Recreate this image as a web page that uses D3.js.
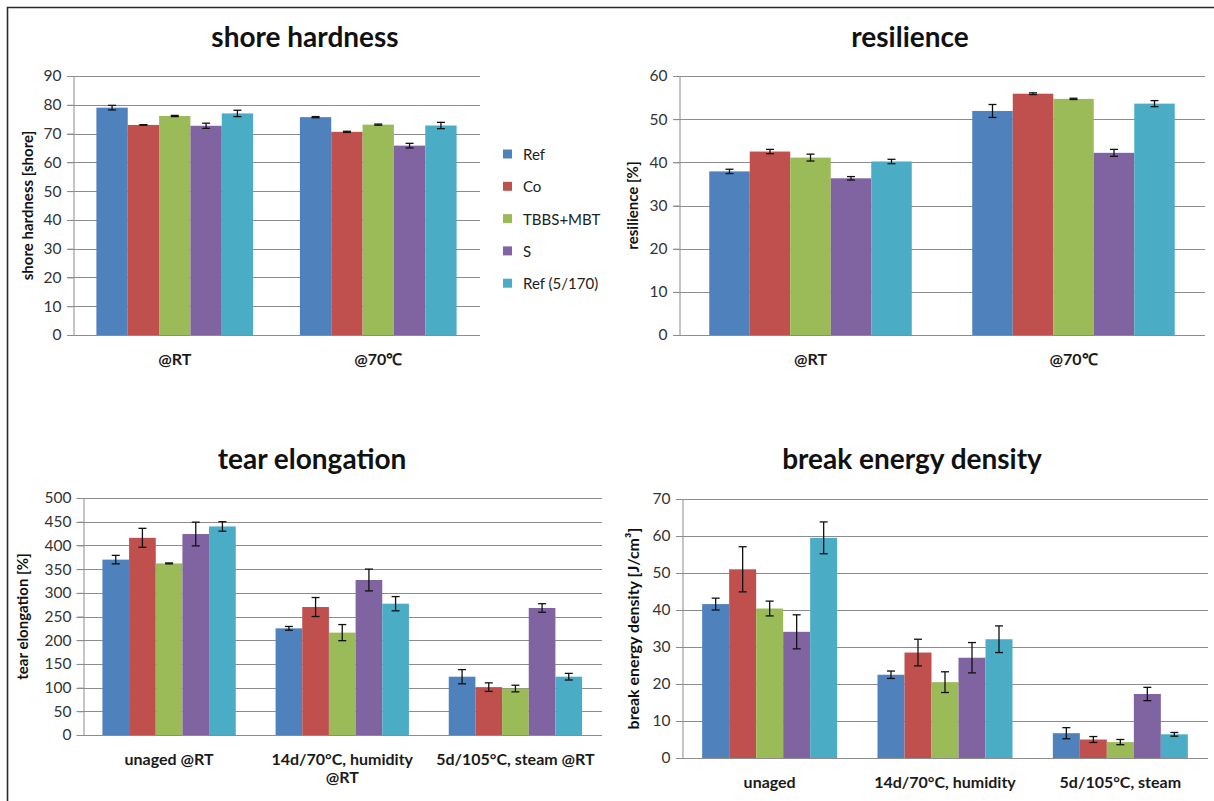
<!DOCTYPE html>
<html>
<head>
<meta charset="utf-8">
<script src="https://cdn.jsdelivr.net/npm/d3@7"></script>
<style>
  html, body { margin: 0; padding: 0; background: #fff; }
  svg { display: block; font-family: Lato, "Open Sans", sans-serif; }
</style>
</head>
<body>
<svg id="chart" width="1214" height="801"></svg>
<script>
// Compound series shown in every panel
const seriesNames = ["Ref", "Co", "TBBS+MBT", "S", "Ref (5/170)"];
const seriesColors = ["#4F81BD", "#C0504D", "#9BBB59", "#8064A2", "#4BACC6"];

// Shore hardness [shore]
const hardnessCats = ["@RT", "@70℃"];
const hardnessVals = [[79.0, 75.7], [73.0, 70.6], [76.1, 73.1], [72.7, 65.8], [77.0, 72.8]];
const hardnessErr  = [[0.8, 0.2], [0.1, 0.2], [0.2, 0.2], [0.9, 0.8], [1.1, 1.1]];
const hardnessTicks = [0, 10, 20, 30, 40, 50, 60, 70, 80, 90];

// Resilience [%]
const resilienceCats = ["@RT", "@70℃"];
const resilienceVals = [[37.9, 51.9], [42.5, 55.9], [41.1, 54.7], [36.3, 42.2], [40.2, 53.6]];
const resilienceErr  = [[0.5, 1.5], [0.5, 0.2], [0.8, 0.15], [0.4, 0.8], [0.5, 0.7]];
const resilienceTicks = [0, 10, 20, 30, 40, 50, 60];

// Tear elongation [%]
const tearCats = ["unaged @RT", "14d/70°C, humidity @RT", "5d/105°C, steam @RT"];
const tearVals = [[370, 225, 123], [416, 270, 101], [362, 216, 98], [424, 327, 268], [440, 277, 123]];
const tearErr  = [[9, 4, 15], [20, 20, 9], [1, 17, 7], [25, 23, 9], [10, 15, 7]];
const tearTicks = [0, 50, 100, 150, 200, 250, 300, 350, 400, 450, 500];

// Break energy density [J/cm³]
const energyCats = ["unaged", "14d/70°C, humidity", "5d/105°C, steam"];
const energyVals = [[41.6, 22.5, 6.7], [51.0, 28.5, 5.0], [40.4, 20.5, 4.3], [34.1, 27.1, 17.3], [59.5, 32.1, 6.4]];
const energyErr  = [[1.6, 1.0, 1.5], [6.1, 3.6, 0.8], [2.0, 2.8, 0.7], [4.6, 4.1, 1.8], [4.3, 3.6, 0.5]];
const energyTicks = [0, 10, 20, 30, 40, 50, 60, 70];

const svg = d3.select("#chart");

// outer frame (top and left edges)
svg.append("path")
  .attr("d", "M7.5,801 V7.5 H1214")
  .attr("fill", "none")
  .attr("stroke", "#2b2b2b")
  .attr("stroke-width", 1.6);

function drawPanel(p) {
  const g = svg.append("g");
  const y = d3.scaleLinear().domain([0, p.ticks[p.ticks.length - 1]]).range([p.y0, p.y1]);
  const x = d3.scaleBand().domain(p.cats).range([p.x0, p.x1])
    .paddingInner(0.23).paddingOuter(0.115);
  const xs = d3.scaleBand().domain(d3.range(seriesNames.length)).range([0, x.bandwidth()]);

  // gridlines
  g.append("g").selectAll("line").data(p.ticks).join("line")
    .attr("x1", p.x0 - 6).attr("x2", p.x1)
    .attr("y1", d => Math.round(y(d)) + 0.5).attr("y2", d => Math.round(y(d)) + 0.5)
    .attr("stroke", "#8c8c8c").attr("stroke-width", 1);

  // value axis
  const ax = g.append("g").attr("transform", `translate(${Math.round(p.x0) + 0.5},0)`)
    .call(d3.axisLeft(y).tickValues(p.ticks).tickSize(6).tickPadding(6));
  ax.select(".domain").attr("stroke", "#8c8c8c");
  ax.selectAll(".tick line").attr("stroke", "#8c8c8c");
  ax.selectAll(".tick text").attr("font-size", 15.5).attr("fill", "#333")
    .attr("font-family", "Lato, 'Open Sans', sans-serif");

  // bars
  const rows = [];
  p.vals.forEach((vals, si) => vals.forEach((v, ci) => rows.push({ si, ci, v, e: p.err[si][ci] })));
  g.append("g").selectAll("rect").data(rows).join("rect")
    .attr("x", d => x(p.cats[d.ci]) + xs(d.si))
    .attr("width", xs.bandwidth())
    .attr("y", d => y(d.v))
    .attr("height", d => y(0) - y(d.v))
    .attr("fill", d => seriesColors[d.si]);

  // error bars
  const eb = g.append("g").attr("stroke", "#111").attr("stroke-width", 1.3).selectAll("g").data(rows).join("g")
    .attr("transform", d => `translate(${x(p.cats[d.ci]) + xs(d.si) + xs.bandwidth() / 2},0)`);
  eb.append("line").attr("y1", d => y(d.v + d.e)).attr("y2", d => y(d.v - d.e));
  eb.append("line").attr("x1", -4).attr("x2", 4).attr("y1", d => y(d.v + d.e)).attr("y2", d => y(d.v + d.e));
  eb.append("line").attr("x1", -4).attr("x2", 4).attr("y1", d => y(d.v - d.e)).attr("y2", d => y(d.v - d.e));

  // category labels (wrapped where needed)
  p.cats.forEach((c, i) => {
    const lines = p.wrap && p.wrap[i] ? p.wrap[i] : [c];
    const t = g.append("text")
      .attr("x", x(c) + x.bandwidth() / 2)
      .attr("y", p.y0 + 30)
      .attr("text-anchor", "middle")
      .attr("font-size", 16).attr("font-weight", "bold").attr("fill", "#1a1a1a");
    lines.forEach((ln, k) => t.append("tspan").attr("x", x(c) + x.bandwidth() / 2).attr("dy", k ? 18 : 0).text(ln));
  });

  // axis title
  g.append("text")
    .attr("transform", `translate(${p.yTitleX},${(p.y0 + p.y1) / 2}) rotate(-90)`)
    .attr("text-anchor", "middle").attr("dominant-baseline", "central")
    .attr("font-size", p.yTitleSize || 15).attr("font-weight", "bold").attr("fill", "#111")
    .text(p.yTitle);

  // chart title
  g.append("text")
    .attr("x", p.titleX).attr("y", p.titleY)
    .attr("text-anchor", "middle")
    .attr("font-size", 28).attr("font-weight", "bold").attr("fill", "#111")
    .text(p.title);
}

drawPanel({
  title: "shore hardness", titleX: 305, titleY: 47,
  yTitle: "shore hardness [shore]", yTitleX: 27,
  cats: hardnessCats, vals: hardnessVals, err: hardnessErr, ticks: hardnessTicks,
  x0: 73, x1: 480, y0: 335, y1: 76
});

drawPanel({
  title: "resilience", titleX: 910, titleY: 47,
  yTitle: "resilience [%]", yTitleX: 632,
  cats: resilienceCats, vals: resilienceVals, err: resilienceErr, ticks: resilienceTicks,
  x0: 679, x1: 1205, y0: 335, y1: 76
});

drawPanel({
  title: "tear elongation", titleX: 312, titleY: 469,
  yTitle: "tear elongation [%]", yTitleX: 22,
  cats: tearCats, vals: tearVals, err: tearErr, ticks: tearTicks,
  wrap: [null, ["14d/70°C, humidity", "@RT"], null],
  x0: 82.5, x1: 602, y0: 735, y1: 498
});

drawPanel({
  title: "break energy density", titleX: 912, titleY: 469,
  yTitle: "break energy density [J/cm³]", yTitleX: 632, yTitleSize: 16,
  cats: energyCats, vals: energyVals, err: energyErr, ticks: energyTicks,
  x0: 682, x1: 1208, y0: 758, y1: 499
});

// legend for the shore hardness panel
const legend = svg.append("g").selectAll("g").data(seriesNames).join("g")
  .attr("transform", (d, i) => `translate(503,${154 + i * 32.3})`);
legend.append("rect").attr("x", 0).attr("y", -4.5).attr("width", 9).attr("height", 9)
  .attr("fill", (d, i) => seriesColors[i]);
legend.append("text").attr("x", 20).attr("y", 0).attr("dominant-baseline", "central")
  .attr("font-size", 15).attr("fill", "#222").text(d => d);
</script>
</body>
</html>
